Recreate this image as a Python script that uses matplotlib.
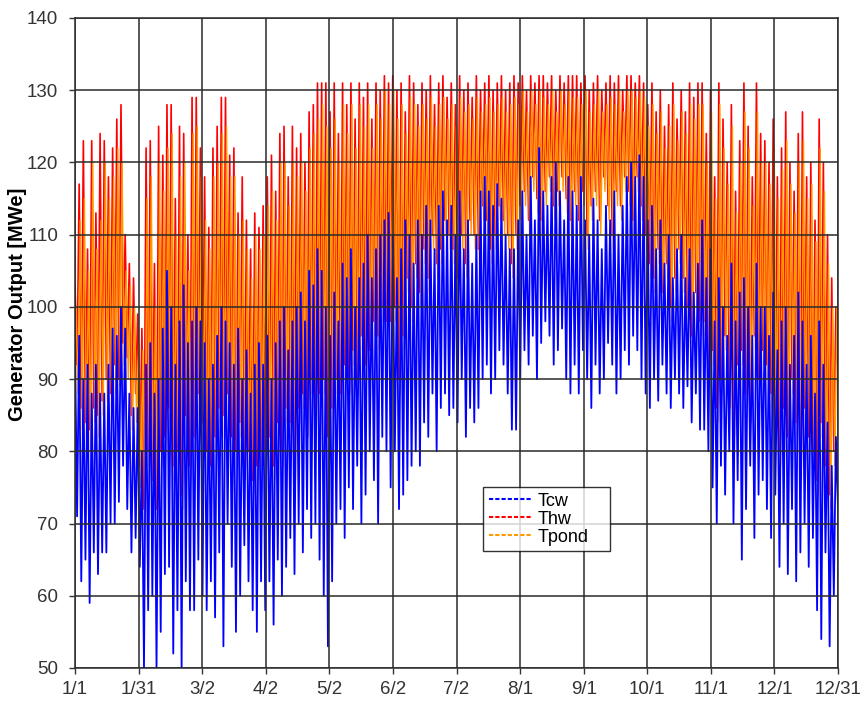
import numpy as np
import matplotlib
matplotlib.use("Agg")
import matplotlib.pyplot as plt

plt.rcParams['font.family'] = ['Liberation Sans', 'DejaVu Sans']

# x-axis tick labels (13 evenly spaced ticks over the year)
tick_labels = ["1/1", "1/31", "3/2", "4/2", "5/2", "6/2", "7/2", "8/1",
               "9/1", "10/1", "11/1", "12/1", "12/31"]
y_ticks = [50, 60, 70, 80, 90, 100, 110, 120, 130, 140]

# Values: per 2-day block, the peak (hi) and the trough (lo)
# Thw (red)
thw_hi = [103, 117, 123, 108, 123, 113, 124, 123, 118, 122, 126, 128, 110, 106, 104,
          99, 97, 122, 123, 106, 125, 121, 128, 128, 115, 125, 124, 110, 129, 129,
          122, 118, 111, 122, 125, 129, 129, 121, 122, 113, 118, 112, 108, 113, 111,
          114, 118, 121, 116, 124, 125, 118, 125, 122, 124, 120, 127, 128, 131, 131,
          131, 127, 131, 124, 131, 128, 131, 126, 131, 129, 131, 126, 131, 130, 132,
          131, 132, 130, 131, 127, 132, 131, 128, 131, 130, 132, 128, 131, 132, 129,
          131, 128, 132, 130, 131, 129, 132, 130, 131, 132, 130, 131, 132, 130, 131,
          132, 131, 132, 130, 132, 131, 132, 132, 131, 132, 130, 132, 131, 132, 132,
          132, 131, 132, 130, 131, 132, 130, 131, 132, 131, 132, 130, 132, 132, 131,
          132, 131, 128, 131, 127, 130, 125, 128, 131, 126, 130, 127, 131, 129, 131,
          131, 124, 130, 118, 131, 126, 120, 128, 116, 123, 131, 125, 118, 131, 124,
          123, 120, 126, 118, 122, 127, 120, 116, 124, 127, 118, 120, 112, 126, 120, 110, 104, 100]
thw_lo = [92, 86, 84, 83, 86, 85, 87, 90, 88, 92, 90, 95, 93, 85, 88,
          78, 72, 80, 76, 72, 80, 82, 86, 78, 80, 74, 85, 78, 82, 88,
          84, 80, 78, 82, 86, 85, 88, 82, 80, 84, 78, 80, 76, 78, 80,
          80, 82, 78, 84, 80, 86, 84, 78, 86, 88, 84, 90, 86, 88, 90,
          82, 86, 90, 88, 92, 90, 94, 90, 96, 92, 94, 98, 96, 100, 98,
          98, 100, 90, 96, 104, 100, 106, 102, 108, 104, 110, 106, 108, 112, 110,
          108, 104, 110, 106, 112, 110, 108, 114, 112, 108, 110, 114, 112, 110, 106,
          110, 114, 116, 112, 118, 115, 112, 116, 118, 114, 116, 118, 115, 112, 116,
          112, 116, 110, 114, 116, 112, 118, 114, 110, 116, 114, 118, 116, 112, 118,
          114, 110, 106, 104, 108, 102, 106, 100, 104, 108, 104, 100, 96, 102, 98,
          98, 92, 94, 86, 90, 96, 88, 84, 92, 94, 88, 86, 96, 90, 94,
          92, 88, 84, 80, 86, 82, 90, 84, 78, 86, 82, 80, 76, 84, 78, 74, 80, 92]

# Tpond (orange)
tpond_hi = [100, 112, 115, 105, 120, 108, 112, 120, 115, 118, 122, 120, 105, 103, 100,
            95, 94, 115, 118, 100, 120, 116, 122, 124, 110, 118, 120, 105, 124, 125,
            118, 112, 108, 118, 120, 124, 125, 118, 118, 110, 112, 108, 104, 110, 108,
            110, 114, 116, 112, 120, 120, 114, 120, 118, 120, 116, 122, 124, 126, 128,
            125, 122, 126, 120, 128, 124, 128, 122, 128, 125, 128, 122, 128, 126, 130,
            128, 130, 126, 128, 124, 129, 128, 125, 128, 126, 129, 125, 128, 129, 126,
            128, 125, 129, 127, 128, 126, 129, 127, 128, 129, 127, 128, 129, 127, 128,
            129, 128, 130, 127, 130, 128, 130, 129, 128, 130, 127, 130, 128, 130, 129,
            129, 128, 130, 127, 128, 130, 127, 128, 129, 128, 130, 127, 130, 130, 129,
            130, 129, 125, 128, 124, 127, 122, 125, 128, 123, 127, 124, 128, 126, 128,
            128, 120, 127, 115, 128, 122, 117, 125, 113, 120, 127, 122, 114, 127, 120,
            120, 117, 122, 115, 119, 123, 117, 113, 120, 123, 115, 117, 109, 122, 116, 106, 100, 100]
tpond_lo = [88, 83, 82, 80, 84, 82, 85, 87, 86, 88, 89, 92, 90, 83, 84,
            75, 70, 78, 74, 70, 78, 80, 84, 76, 78, 72, 82, 76, 80, 85,
            82, 78, 76, 80, 84, 82, 86, 80, 78, 82, 76, 78, 74, 76, 78,
            78, 80, 76, 82, 78, 84, 82, 76, 84, 86, 82, 88, 84, 86, 88,
            80, 84, 88, 86, 90, 88, 92, 88, 94, 90, 92, 96, 94, 98, 96,
            96, 98, 88, 94, 102, 98, 104, 100, 106, 102, 108, 104, 106, 110, 108,
            106, 102, 108, 104, 110, 108, 106, 112, 110, 106, 108, 112, 110, 108, 104,
            108, 112, 114, 110, 116, 113, 110, 114, 116, 112, 114, 116, 113, 110, 114,
            110, 114, 108, 112, 114, 110, 116, 112, 108, 114, 112, 116, 114, 110, 116,
            112, 108, 104, 102, 106, 100, 104, 98, 102, 106, 102, 98, 94, 100, 96,
            96, 90, 92, 84, 88, 94, 86, 82, 90, 92, 86, 84, 94, 88, 92,
            90, 86, 82, 78, 84, 80, 88, 82, 76, 84, 80, 78, 74, 82, 76, 72, 78, 90]

# Tcw (blue)
tcw_hi = [95, 96, 90, 92, 88, 92, 88, 88, 92, 97, 96, 100, 97, 88, 86,
          86, 80, 92, 95, 88, 90, 97, 105, 100, 92, 98, 103, 95, 98, 100,
          98, 95, 90, 92, 96, 100, 98, 95, 92, 97, 90, 94, 88, 92, 95,
          92, 96, 90, 95, 98, 100, 94, 98, 100, 102, 98, 105, 103, 108, 105,
          100, 96, 102, 98, 106, 104, 108, 100, 104, 106, 110, 104, 108, 110, 112,
          113, 110, 104, 108, 112, 110, 106, 112, 110, 114, 112, 108, 114, 116, 112,
          114, 110, 116, 108, 112, 106, 110, 116, 118, 116, 114, 117, 115, 110, 108,
          108, 112, 116, 110, 118, 112, 122, 116, 114, 118, 120, 116, 112, 118, 116,
          114, 118, 112, 110, 115, 112, 108, 114, 112, 116, 110, 114, 118, 120, 118,
          121, 118, 112, 114, 108, 112, 106, 110, 104, 108, 110, 104, 108, 102, 106,
          112, 104, 108, 98, 104, 100, 96, 106, 98, 102, 104, 100, 96, 106, 100,
          100, 96, 102, 94, 98, 100, 92, 96, 102, 98, 92, 96, 88, 98, 92, 84, 78, 82]
tcw_lo = [71, 62, 65, 59, 66, 63, 66, 66, 70, 70, 73, 78, 72, 66, 68,
          64, 50, 58, 60, 50, 55, 63, 64, 52, 58, 50, 62, 58, 58, 65,
          60, 58, 62, 57, 66, 53, 70, 64, 55, 60, 67, 62, 58, 55, 62,
          58, 62, 56, 65, 60, 64, 68, 63, 70, 66, 72, 68, 70, 65, 60,
          53, 62, 70, 72, 68, 75, 72, 78, 70, 74, 80, 76, 70, 82, 80,
          75, 80, 72, 74, 76, 78, 80, 78, 84, 82, 88, 80, 86, 88, 85,
          86, 84, 90, 82, 86, 84, 86, 90, 92, 88, 90, 94, 92, 88, 83,
          83, 90, 94, 92, 96, 90, 95, 98, 96, 92, 94, 97, 90, 88, 92,
          88, 94, 90, 86, 92, 88, 90, 95, 92, 88, 90, 94, 92, 96, 94,
          90, 88, 86, 90, 87, 92, 88, 86, 90, 88, 86, 89, 84, 88, 83,
          83, 80, 75, 70, 78, 74, 80, 70, 76, 65, 72, 78, 68, 74, 76,
          72, 68, 74, 64, 70, 63, 72, 62, 66, 70, 64, 68, 58, 54, 66, 53, 60, 72]


def zigzag(hi, lo):
    vals = np.empty(2 * len(hi))
    vals[0::2] = hi
    vals[1::2] = lo
    return vals


fig = plt.figure(figsize=(8.65, 7.04), dpi=100)
ax = fig.add_axes([75 / 865, 36 / 704, 763 / 865, 650 / 704])

# name, hi, lo, colour, zorder, linewidth, day offset
series = [("Tcw", tcw_hi, tcw_lo, "#0000FF", 1.4, 1.3, 0.0),
          ("Thw", thw_hi, thw_lo, "#FF0000", 1.2, 1.2, 0.0),
          ("Tpond", tpond_hi, tpond_lo, "#FF9900", 1.3, 1.0, 0.5)]
handles = []
for name, hi, lo, col, z, lw, off in series:
    y = zigzag(hi, lo)
    x = np.arange(len(y)) + off
    ln, = ax.plot(x, y, color=col, lw=lw, zorder=z, label=name)
    handles.append(ln)

ax.set_xlim(0, 365)
ax.set_ylim(50, 140)
ax.set_xticks(np.linspace(0, 365, 13))
ax.set_xticklabels(tick_labels)
ax.set_yticks(y_ticks)
ax.tick_params(axis='both', labelsize=13.5, labelcolor='#333333', color='#333333',
               length=4, width=1)
ax.tick_params(axis='y', pad=8)
ax.tick_params(axis='x', pad=5)
ax.set_axisbelow(False)
ax.grid(True, color='#2a2a2a', lw=1.1, zorder=1.5)
for sp in ax.spines.values():
    sp.set_color('#2a2a2a')
    sp.set_linewidth(1.1)

ax.set_ylabel("Generator Output [MWe]", fontsize=14.5, fontweight='bold')
ax.yaxis.set_label_coords(-0.063, 0.56)

leg = ax.legend(handles=handles, loc='lower left', bbox_to_anchor=(0.535, 0.18, 0.166, 0.1),
                mode='expand', fontsize=13, frameon=True, fancybox=False,
                edgecolor='black', handlelength=2.4, labelspacing=0.05,
                borderpad=0.3, handletextpad=0.3, borderaxespad=0)
leg.get_frame().set_linewidth(1.0)
for h in leg.get_lines():
    h.set_linestyle((0, (2, 1)))
    h.set_linewidth(1.5)

fig.savefig("out.png", dpi=100)
